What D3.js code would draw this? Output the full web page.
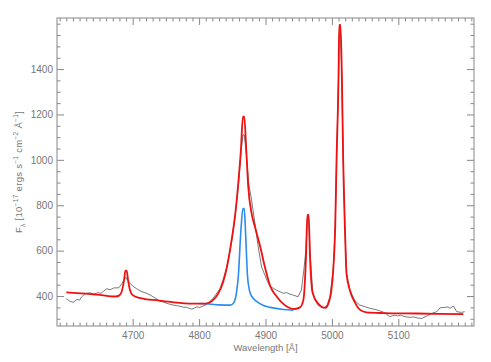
<!DOCTYPE html>
<html>
<head>
<meta charset="utf-8">
<script src="https://cdn.jsdelivr.net/npm/d3@7"></script>
<style>
  body { margin: 0; background: #fff; }
  svg { display: block; }
  .axis text { fill: #777; font-family: "Liberation Sans", Arial, sans-serif; font-size: 10px; }
  .axis line { stroke: #888; }
  .axis path { display: none; }
</style>
</head>
<body>
<svg id="chart"></svg>
<script>
// observed spectrum (gray)
const obsWave = [4600, 4603, 4606, 4611, 4616, 4620, 4623, 4628, 4632, 4636, 4642, 4648, 4652, 4656, 4661, 4666, 4672, 4679, 4684, 4688, 4690, 4692, 4695, 4700,
  4706, 4714, 4720, 4726, 4734, 4741, 4746, 4751, 4756, 4761, 4766, 4771, 4776, 4781, 4785, 4789, 4793, 4796, 4801, 4806, 4811, 4816, 4821, 4831, 4836, 4842, 4849,
  4854, 4859, 4863, 4866, 4868, 4871, 4875, 4879, 4884, 4889, 4894, 4902, 4907, 4912, 4917, 4922, 4927, 4932, 4937, 4942, 4949, 4954, 4958, 4961, 4963, 4965,
  4967, 4971, 4975, 4979, 4983, 4987, 4993, 4997, 5002, 5005, 5007, 5010, 5011, 5013, 5015, 5017, 5020, 5022, 5027, 5031, 5035, 5042, 5050,
  5057, 5065, 5072, 5080, 5087, 5091, 5095, 5099, 5103, 5110, 5118, 5123, 5128, 5135, 5143, 5150, 5158, 5163, 5170, 5175, 5178, 5183, 5188, 5195, 5200];
const obsFlux = [388, 382, 376, 373, 385, 382, 396, 409, 413, 414, 409, 415, 412, 421, 432, 428, 436, 436, 456, 478, 482, 470, 460, 444,
  432, 419, 413, 405, 391, 377, 374, 368, 364, 360, 358, 355, 351, 350, 346, 342, 347, 352, 350, 356, 362, 375, 390, 430, 470, 529, 640,
  745, 880, 1030, 1110, 1110, 1030, 890, 824, 721, 618, 529, 471, 441, 434, 425, 419, 412, 415, 408, 404, 397, 426, 520, 610, 740, 740,
  600, 420, 380, 360, 352, 346, 360, 397, 515, 706, 1000, 1360, 1560, 1560, 1360, 1000, 662, 500, 430, 400, 378, 360, 353,
  346, 341, 335, 326, 309, 313, 316, 312, 316, 309, 306, 308, 304, 301, 312, 323, 331, 348, 350, 352, 346, 356, 331, 328, 331];

// total fit (red)
const fitWave = [4600, 4650, 4674, 4680, 4684, 4687, 4689, 4691, 4693, 4696, 4700, 4710, 4740, 4760, 4790, 4810, 4819, 4829,
  4836, 4842, 4849, 4854, 4859, 4863, 4866, 4868, 4871, 4874, 4879, 4884, 4892, 4899, 4907, 4917, 4929, 4944, 4952, 4957,
  4961, 4963, 4965, 4967, 4971, 4979, 4990, 4995, 4999, 5002, 5005, 5007, 5010, 5011, 5013, 5015, 5017, 5020, 5022, 5027, 5035,
  5042, 5052, 5077, 5128, 5198];
const fitFlux = [416, 405, 398, 403, 425, 470, 512, 512, 470, 425, 404, 392, 380, 373, 367, 367, 377, 412,
  460, 529, 647, 750, 897, 1045, 1190, 1190, 1045, 882, 765, 706, 618, 529, 445, 397, 360, 343, 350, 382,
  574, 758, 758, 574, 413, 368, 348, 370, 420, 515, 706, 1000, 1368, 1595, 1595, 1368, 1000, 662, 500, 426, 370,
  340, 328, 325, 323, 320];

// narrow H-beta + continuum (blue)
const narrowWave = [4800, 4810, 4830, 4847, 4852, 4856, 4859, 4863, 4866, 4868, 4870, 4873, 4877, 4882, 4887, 4897, 4907, 4927, 4942];
const narrowFlux = [367, 366, 361, 360, 370, 410, 485, 691, 785, 785, 677, 485, 412, 388, 375, 358, 350, 341, 338];

const xMajor = [4700, 4800, 4900, 5000, 5100];
const yMajor = [400, 600, 800, 1000, 1200, 1400];

const W = 491, H = 362;
const plotL = 57, plotR = 474, plotT = 18, plotB = 326;

const svg = d3.select("#chart").attr("width", W).attr("height", H);

const x = d3.scaleLinear().domain([4586, 5214]).range([plotL, plotR]);
const y = d3.scaleLinear().domain([268, 1625]).range([plotB, plotT]);

const xMinor = d3.range(4590, 5211, 10).filter(v => xMajor.indexOf(v) < 0);
const yMinor = d3.range(300, 1601, 50).filter(v => yMajor.indexOf(v) < 0);

// ticks, IDL style: inward on all four sides
svg.append("g").attr("class", "axis").attr("transform", `translate(0,${plotB})`)
  .call(d3.axisBottom(x).tickValues(xMajor).tickSize(-7).tickPadding(6).tickFormat(d3.format("d")));
svg.append("g").attr("class", "axis").attr("transform", `translate(0,${plotB})`)
  .call(d3.axisBottom(x).tickValues(xMinor).tickSize(-3.5).tickFormat(""));
svg.append("g").attr("class", "axis").attr("transform", `translate(0,${plotT})`)
  .call(d3.axisTop(x).tickValues(xMajor).tickSize(-7).tickFormat(""));
svg.append("g").attr("class", "axis").attr("transform", `translate(0,${plotT})`)
  .call(d3.axisTop(x).tickValues(xMinor).tickSize(-3.5).tickFormat(""));

svg.append("g").attr("class", "axis").attr("transform", `translate(${plotL},0)`)
  .call(d3.axisLeft(y).tickValues(yMajor).tickSize(-7).tickPadding(4).tickFormat(d3.format("d")));
svg.append("g").attr("class", "axis").attr("transform", `translate(${plotL},0)`)
  .call(d3.axisLeft(y).tickValues(yMinor).tickSize(-3.5).tickFormat(""));
svg.append("g").attr("class", "axis").attr("transform", `translate(${plotR},0)`)
  .call(d3.axisRight(y).tickValues(yMajor).tickSize(-7).tickFormat(""));
svg.append("g").attr("class", "axis").attr("transform", `translate(${plotR},0)`)
  .call(d3.axisRight(y).tickValues(yMinor).tickSize(-3.5).tickFormat(""));

svg.append("rect")
  .attr("x", plotL).attr("y", plotT)
  .attr("width", plotR - plotL).attr("height", plotB - plotT)
  .attr("fill", "none").attr("stroke", "#888").attr("stroke-width", 1);

// spectra
svg.append("clipPath").attr("id", "plot-clip")
  .append("rect").attr("x", plotL).attr("y", plotT).attr("width", plotR - plotL).attr("height", plotB - plotT);

const plot = svg.append("g").attr("clip-path", "url(#plot-clip)");

const lineLin = d3.line().x(d => x(d[0])).y(d => y(d[1]));
const lineSmooth = d3.line().x(d => x(d[0])).y(d => y(d[1])).curve(d3.curveMonotoneX);

plot.append("path")
  .datum(d3.zip(obsWave, obsFlux))
  .attr("d", lineLin)
  .attr("fill", "none").attr("stroke", "#555").attr("stroke-width", 0.8);

plot.append("path")
  .datum(d3.zip(narrowWave, narrowFlux))
  .attr("d", lineSmooth)
  .attr("fill", "none").attr("stroke", "#2b8cf0").attr("stroke-width", 1.6);

plot.append("path")
  .datum(d3.zip(fitWave, fitFlux))
  .attr("d", lineSmooth)
  .attr("fill", "none").attr("stroke", "#f01010").attr("stroke-width", 1.8);

// axis titles
svg.append("text")
  .attr("x", (plotL + plotR) / 2).attr("y", 351)
  .attr("text-anchor", "middle")
  .attr("fill", "#777")
  .style("font-family", "'Liberation Sans', Arial, sans-serif")
  .style("font-size", "9.5px")
  .text("Wavelength [Å]");

const yt = svg.append("text")
  .attr("transform", `translate(22,${(plotT + plotB) / 2}) rotate(-90)`)
  .attr("text-anchor", "middle")
  .attr("fill", "#777")
  .style("font-family", "'Liberation Sans', Arial, sans-serif")
  .style("font-size", "9.5px")
  .style("letter-spacing", "0.3px");
yt.append("tspan").text("F");
yt.append("tspan").attr("dy", 2.5).style("font-size", "6.5px").text("λ");
yt.append("tspan").attr("dy", -2.5).text(" [10");
yt.append("tspan").attr("dy", -4).style("font-size", "6.5px").text("−17");
yt.append("tspan").attr("dy", 4).text(" ergs s");
yt.append("tspan").attr("dy", -4).style("font-size", "6.5px").text("−1");
yt.append("tspan").attr("dy", 4).text(" cm");
yt.append("tspan").attr("dy", -4).style("font-size", "6.5px").text("−2");
yt.append("tspan").attr("dy", 4).text(" Å");
yt.append("tspan").attr("dy", -4).style("font-size", "6.5px").text("−1");
yt.append("tspan").attr("dy", 4).text("]");
</script>
</body>
</html>
